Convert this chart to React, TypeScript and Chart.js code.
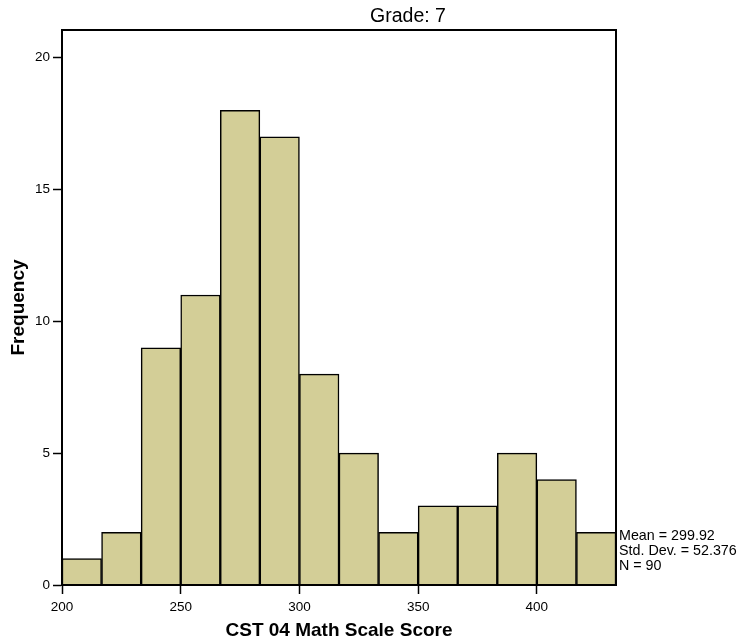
import React, { useEffect, useRef } from "react";
import { Chart, registerables } from "chart.js";

Chart.register(...registerables);

const chartTitle = "Grade: 7";
const xAxisTitle = "CST 04 Math Scale Score";
const yAxisTitle = "Frequency";
const binEdges = [200, 216.667, 233.333, 250, 266.667, 283.333, 300, 316.667, 333.333, 350, 366.667, 383.333, 400, 416.667, 433.333];
const frequencies = [1, 2, 9, 11, 18, 17, 8, 5, 2, 3, 3, 5, 4, 2];
const statsLines = ["Mean = 299.92", "Std. Dev. = 52.376", "N = 90"];
const yMax = 21.05;

const FONT = "'Liberation Sans', Arial, Helvetica, sans-serif";

export default function App() {
  const ref = useRef<HTMLCanvasElement | null>(null);

  useEffect(() => {
    document.body.style.margin = "0";
    const canvas = ref.current!;
    const points = frequencies.map((f, i) => ({ x: (binEdges[i] + binEdges[i + 1]) / 2, y: f }));

    const framePlugin = {
      id: "frame",
      afterDatasetsDraw(chart: any) {
        const { ctx, chartArea } = chart;
        ctx.save();
        ctx.strokeStyle = "#000";
        ctx.lineWidth = 2;
        ctx.strokeRect(chartArea.left, chartArea.top, chartArea.right - chartArea.left, chartArea.bottom - chartArea.top);
        ctx.restore();
      },
      afterDraw(chart: any) {
        const { ctx, chartArea } = chart;
        ctx.save();
        ctx.fillStyle = "#000";
        ctx.font = `19.5px ${FONT}`;
        ctx.textAlign = "center";
        ctx.textBaseline = "middle";
        ctx.fillText(chartTitle, 408, 16.5);
        ctx.font = `14.3px ${FONT}`;
        ctx.textAlign = "left";
        statsLines.forEach((s, i) => {
          ctx.fillText(s, chartArea.right + 3, 536 + i * 15);
        });
        ctx.restore();
      },
    };

    const chart = new Chart(canvas, {
      type: "bar",
      data: {
        datasets: [
          {
            data: points as any,
            backgroundColor: "#D3CE97",
            borderColor: "#000",
            borderWidth: 1.5,
            barPercentage: 1,
            categoryPercentage: 1,
          },
        ],
      },
      options: {
        animation: false,
        responsive: false,
        maintainAspectRatio: false,
        layout: { padding: { top: 30, right: 125, left: 0, bottom: 0 } },
        plugins: { legend: { display: false }, tooltip: { enabled: false }, title: { display: false } },
        scales: {
          x: {
            type: "linear",
            offset: false,
            min: binEdges[0],
            max: binEdges[binEdges.length - 1],
            afterFit: (s: any) => { s.height = 58; },
            ticks: { stepSize: 50, includeBounds: false, color: "#000", font: { family: FONT, size: 13.5 }, padding: 5, maxRotation: 0 },
            grid: { drawOnChartArea: false, offset: false, tickLength: 9, tickColor: "#000", tickWidth: 1.5 },
            border: { color: "#000", width: 2 },
            title: { display: true, text: xAxisTitle, color: "#000", font: { family: FONT, size: 19, weight: "bold" }, padding: { top: 0, bottom: 1 } },
          },
          y: {
            min: 0,
            max: yMax,
            afterFit: (s: any) => { s.width = 62; },
            ticks: { stepSize: 5, includeBounds: false, color: "#000", font: { family: FONT, size: 13.5 }, padding: 3 },
            grid: { drawOnChartArea: false, tickLength: 9, tickColor: "#000", tickWidth: 1.5 },
            border: { color: "#000", width: 2 },
            title: { display: true, text: yAxisTitle, color: "#000", font: { family: FONT, size: 19, weight: "bold" }, padding: { top: 7.5, bottom: 0 } },
          },
        },
      },
      plugins: [framePlugin],
    });
    return () => chart.destroy();
  }, []);

  return (
    <div style={{ width: 741, height: 643 }}>
      <canvas ref={ref} width={741} height={643} style={{ display: "block", width: 741, height: 643 }} />
    </div>
  );
}
